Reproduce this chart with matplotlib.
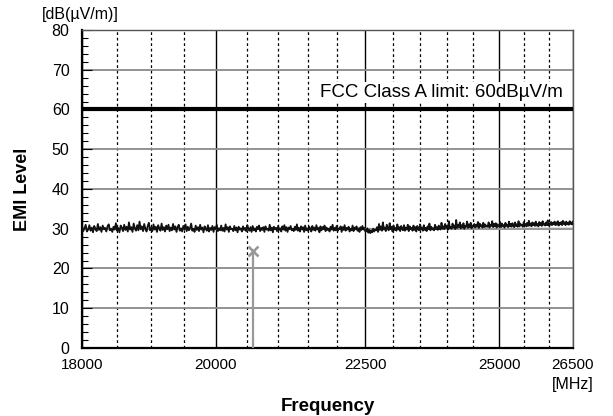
import numpy as np
import matplotlib
matplotlib.use("Agg")
import matplotlib.pyplot as plt
from matplotlib.ticker import FixedLocator, NullFormatter, FixedFormatter

plt.rcParams['font.family'] = ['Liberation Sans', 'DejaVu Sans']

level_a = [30.6, 29.4, 30.1, 31.0, 29.3, 29.8, 30.9, 29.5, 30.3, 29.1,
           30.7, 30.0, 29.4, 31.2, 29.7, 30.4, 29.2, 30.8, 29.9, 30.2,
           29.3, 30.6, 31.1, 29.6, 30.0, 29.2, 30.5, 29.8, 31.4, 29.5,
           30.2, 29.1, 30.8, 30.3, 29.4, 31.0, 29.7, 30.5, 29.3, 31.6,
           29.8, 30.4, 29.2, 31.3, 30.1, 29.5, 30.9, 29.6, 31.8, 29.9,
           30.6, 29.4, 31.2, 30.0, 29.3, 30.7, 31.5, 29.6, 30.2, 29.4,
           31.1, 29.8, 30.5, 29.2, 30.9, 30.1, 29.5, 31.3, 29.7, 30.4,
           29.3, 30.8, 29.9, 31.0, 29.4, 30.3, 29.6, 31.2, 29.8, 30.6,
           29.2, 30.4, 31.0, 29.5, 30.1, 29.3, 30.7, 29.9, 31.1, 29.4,
           30.5, 29.6, 30.2, 31.3, 29.5, 30.0, 29.2, 30.8, 29.7, 30.4,
           29.4, 31.0, 29.8, 30.3, 29.1, 30.6, 30.0, 29.5, 30.9, 29.3,
           30.2, 29.7, 30.7, 29.2, 30.4, 29.9, 31.0, 29.4, 30.1, 29.6]
level_b = [30.8, 29.5, 30.2, 29.3, 31.1, 29.8, 30.4, 29.2, 30.6, 29.9,
           30.0, 29.4, 30.7, 29.6, 30.3, 29.1, 30.5, 29.8, 30.1, 29.3,
           30.6, 29.7, 30.2, 29.4, 30.9, 30.0, 29.5, 30.4, 29.2, 30.7,
           29.6, 30.1, 29.3, 30.5, 29.9, 30.8, 29.4, 30.2, 29.7, 30.4,
           29.2, 30.6, 29.8, 30.0, 29.5, 31.0, 29.6, 30.3, 29.1, 30.5,
           29.9, 30.2, 29.4, 30.7, 29.7, 30.1, 29.3, 30.6, 29.8, 30.9,
           29.5, 30.4, 29.2, 30.3, 29.9, 30.7, 29.6, 30.0, 29.4, 30.5,
           29.7, 31.1, 29.5, 30.2, 29.3, 30.6, 29.8, 30.4, 29.2, 30.8,
           29.6, 30.1, 29.4, 30.5, 30.0, 29.3, 30.7, 29.7, 30.3, 29.5,
           30.9, 29.8, 30.2, 29.1, 30.6, 29.6, 30.4, 29.9, 30.8, 29.4,
           30.3, 29.7, 30.0, 29.3, 30.5, 29.8, 31.0, 29.5, 30.2, 29.6,
           30.7, 29.4, 30.1, 29.9, 30.6, 29.2, 30.4, 29.7, 30.9, 29.5,
           30.2, 29.8, 30.5, 29.3, 30.0, 29.6, 30.8, 29.4, 30.3, 29.9,
           30.6, 29.5, 30.1, 29.2, 30.4, 29.7, 30.7, 29.8, 30.2, 29.3]
level_c = [29.4, 30.1, 29.0, 29.7, 28.9, 29.5, 29.1, 30.0, 29.3, 29.8,
           29.6, 30.4, 29.2, 31.2, 29.7, 30.6, 29.5, 31.6, 29.8, 30.3,
           29.4, 31.0, 30.1, 29.6, 31.4, 29.9, 30.5, 29.3, 30.8, 29.7,
           30.2, 29.5, 31.1, 29.8, 30.4, 29.4, 30.7, 30.0, 29.6, 30.9,
           29.5, 30.3, 29.8, 31.0, 29.4, 30.6, 29.9, 30.2, 29.5, 30.8,
           29.7, 30.4, 29.3, 30.7, 30.0, 29.6, 31.1, 29.8, 30.3, 29.5,
           30.9, 29.7, 30.2, 29.4, 30.6, 29.9, 31.3, 29.6, 30.5, 29.8,
           30.1, 29.6, 31.0, 29.9, 30.4, 29.7, 30.8, 30.0, 29.8, 31.5,
           30.0, 30.6, 29.9, 31.2, 30.2, 30.7, 29.8, 31.9, 30.1, 30.5,
           30.0, 31.3, 30.3, 30.8, 29.9, 32.2, 30.2, 31.0, 30.4, 31.6,
           30.1, 30.9, 30.3, 31.4, 30.0, 30.7, 30.5, 31.8, 30.2, 31.1,
           30.4, 31.5, 30.1, 30.8, 30.6, 31.2, 30.3, 31.0, 30.5, 31.7,
           30.2, 31.3, 30.6, 30.9, 30.3, 31.5, 30.4, 31.1, 30.5, 30.8]
level_d = [30.5, 31.6, 30.3, 31.0, 30.7, 31.9, 30.4, 31.2, 30.6, 31.4,
           30.3, 31.1, 30.8, 30.5, 31.7, 30.4, 31.3, 30.6, 30.9, 30.3,
           31.5, 30.7, 31.0, 30.4, 31.8, 30.6, 31.2, 30.5, 31.4, 30.8,
           30.4, 31.6, 30.7, 31.1, 30.5, 31.9, 30.6, 31.3, 30.8, 31.0,
           30.5, 31.7, 30.9, 31.2, 30.6, 31.5, 30.7, 32.0, 30.8, 31.3,
           30.6, 31.6, 30.9, 31.4, 30.7, 31.8, 30.8, 31.2, 30.6, 31.7,
           30.9, 31.5, 30.7, 31.9, 31.0, 31.3, 30.8, 31.6, 30.9, 32.1,
           30.8, 31.4, 31.0, 31.7, 30.9, 31.5, 31.1, 31.8, 30.9, 31.6,
           31.0, 31.9, 30.8, 31.5, 31.1, 31.7, 30.9, 32.0, 31.2, 31.6,
           30.9, 31.8, 31.1, 31.5, 31.0, 31.9, 31.2, 31.6, 31.1, 31.8]
emi_level = level_a + level_b + level_c + level_d
emi_freq = np.linspace(18000, 26500, len(emi_level))

# grey reference trace and the single marked peak
ref_freq = [18000, 26500]
ref_level = [29.9, 30.0]
peak_freq = 20600
peak_level = 24.4

limit_level = 60
limit_text = "FCC Class A limit: 60dBµV/m"

x_major = [18000, 20000, 22500, 25000, 26500]
x_minor = [f for f in range(18500, 26500, 500) if f not in x_major]

fig = plt.figure(figsize=(6.13, 4.16), dpi=100)
ax = fig.add_axes([0.1338, 0.1635, 0.8009, 0.7644])

ax.set_xscale('log')
ax.set_xlim(18000, 26500)
ax.set_ylim(0, 80)

ax.xaxis.set_major_locator(FixedLocator(x_major))
ax.xaxis.set_major_formatter(FixedFormatter([str(f) for f in x_major]))
ax.xaxis.set_minor_locator(FixedLocator(x_minor))
ax.xaxis.set_minor_formatter(NullFormatter())
ax.set_yticks(range(0, 81, 10))
ax.set_yticks(range(0, 81, 2), minor=True)

# grid
ax.grid(True, which='major', axis='x', color='black', lw=1.0, ls='-')
ax.grid(True, which='minor', axis='x', color='black', lw=0.9, ls=(0, (2.2, 2.2)))
ax.grid(True, which='major', axis='y', color='#8a8a8a', lw=1.3, ls='-')
ax.set_axisbelow(True)

ax.tick_params(axis='x', which='both', length=0, pad=7, labelsize=11)
ax.tick_params(axis='y', which='major', direction='in', length=7, width=0.8, pad=9, labelsize=11.5)
ax.tick_params(axis='y', which='minor', direction='in', length=4, width=0.8)

for side in ['left', 'bottom']:
    ax.spines[side].set_linewidth(1.6)
    ax.spines[side].set_color('black')
for side in ['top', 'right']:
    ax.spines[side].set_linewidth(1.0)
    ax.spines[side].set_color('#555555')

# data
ax.plot(ref_freq, ref_level, color='#999999', lw=1.5, zorder=2)
ax.plot(emi_freq, emi_level, color='#111111', lw=1.3, zorder=3)
ax.vlines(peak_freq, 0, peak_level, color='#999999', lw=1.6, zorder=3)
ax.plot([peak_freq], [peak_level], marker='x', color='#999999', ms=7, mew=1.9, zorder=4)
ax.axhline(limit_level, color='black', lw=3.0, zorder=3)

ax.text(26300, 63.1, limit_text, ha='right', va='baseline', fontsize=13.5,
        bbox=dict(facecolor='white', edgecolor='none', pad=1.5), zorder=5)

# labels
ax.set_ylabel('EMI Level', fontsize=13, fontweight='bold', labelpad=15)
ax.set_xlabel('Frequency', fontsize=13.5, fontweight='bold', labelpad=19)
fig.text(42 / 613, 1 - 14 / 416, '[dB(µV/m)]', fontsize=11.5, ha='left', va='center')
fig.text(573 / 613, 1 - 384 / 416, '[MHz]', fontsize=11.5, ha='center', va='center')

fig.savefig('out.png', dpi=100)
